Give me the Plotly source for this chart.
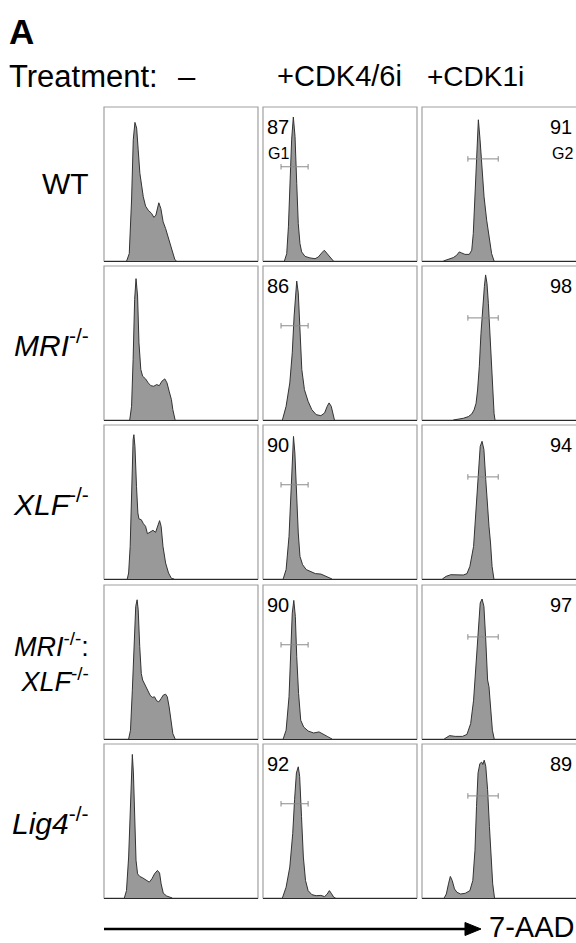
import plotly.graph_objects as go

# ---------------- data ----------------
genotypes = ["WT", "<i>MRI</i><sup>-/-</sup>", "<i>XLF</i><sup>-/-</sup>",
             "<i>MRI</i><sup>-/-</sup>:<br><i>XLF</i><sup>-/-</sup>", "<i>Lig4</i><sup>-/-</sup>"]
genotype_font = [30, 30, 30, 27, 30]
treatments = ["–", "+CDK4/6i", "+CDK1i"]
pct_g1 = [87, 86, 90, 90, 92]   # % G1 after CDK4/6i
pct_g2 = [91, 98, 94, 97, 89]   # % G2 after CDK1i
gate_g1_x = [11.7, 29.3]
gate_g1_y = 61.2
gate_g2_x = [29.8, 49.5]
gate_g2_y = 66.3

# 7-AAD histograms (x: channel, y: % of panel height)
wt_none_x = [14.7, 16.4, 17.9, 19.0, 20.1, 21.2, 22.2, 23.3, 24.4, 25.5, 27.0, 28.7, 30.9, 32.4, 33.7, 34.6, 35.6, 36.9, 38.4, 40.0, 41.3, 42.8, 44.5, 46.0, 47.1]
wt_none_y = [0, 4.8, 39.6, 78.7, 90.0, 86.3, 72.2, 56.9, 49.3, 41.7, 35.6, 33.0, 30.9, 28.3, 29.8, 34.1, 37.8, 34.1, 25.4, 21.1, 16.7, 12.4, 5.9, 0.9, 0]
wt_cdk46_x = [13.9, 15.4, 16.5, 17.5, 18.6, 19.7, 20.8, 21.9, 22.9, 24.0, 25.1, 27.3, 30.5, 33.8, 35.9, 38.1, 39.8, 41.3, 43.5, 45.7]
wt_cdk46_y = [0, 4.8, 22.2, 50.4, 78.7, 93.5, 80.9, 50.4, 24.3, 11.3, 5.9, 3.0, 2.0, 1.5, 2.6, 5.2, 7.0, 5.2, 2.2, 0]
wt_cdk1_x = [13.9, 17.1, 20.3, 22.5, 24.2, 25.8, 27.9, 30.7, 32.3, 33.3, 34.4, 35.5, 36.6, 37.7, 38.7, 40.3, 42.0, 43.7, 45.2, 46.8]
wt_cdk1_y = [0, 0.9, 2.2, 3.7, 5.9, 5.2, 4.3, 4.3, 7.0, 17.8, 43.9, 72.2, 91.7, 78.7, 61.3, 41.7, 26.5, 13.5, 4.8, 0]

mri_none_x = [16.7, 17.9, 18.9, 19.9, 20.8, 21.8, 22.7, 23.9, 25.1, 27.0, 28.7, 30.4, 32.3, 34.2, 35.9, 37.6, 39.5, 40.9, 42.3, 43.8, 44.7, 46.2]
mri_none_y = [0, 8.9, 39.3, 78.3, 91.8, 80.5, 50.1, 32.8, 28.4, 26.7, 24.1, 22.3, 21.9, 23.0, 22.3, 25.2, 26.7, 24.1, 18.7, 13.2, 6.7, 0]
mri_cdk46_x = [12.6, 15.0, 17.4, 19.0, 20.2, 21.2, 21.9, 22.9, 24.0, 25.2, 26.9, 29.3, 31.7, 34.5, 37.6, 40.0, 41.7, 42.9, 44.3, 45.5, 46.4]
mri_cdk46_y = [0, 8.9, 24.1, 43.6, 67.5, 84.8, 90.2, 82.6, 56.6, 32.8, 19.7, 12.1, 6.7, 3.5, 2.8, 4.6, 8.9, 11.1, 8.9, 3.5, 0]
mri_cdk1_x = [20.3, 23.6, 26.8, 30.1, 32.3, 33.8, 35.1, 36.1, 37.2, 38.3, 39.4, 40.5, 41.3, 42.2, 43.1, 44.2, 45.0, 45.9, 46.8, 47.4]
mri_cdk1_y = [0, 0.6, 1.1, 2.2, 3.9, 6.5, 10.8, 19.5, 34.6, 56.3, 75.8, 86.6, 94.2, 88.7, 75.8, 54.1, 34.6, 17.3, 4.3, 0]

xlf_none_x = [15.1, 16.0, 17.0, 17.9, 18.9, 19.4, 20.1, 21.1, 22.0, 22.7, 24.2, 25.6, 27.0, 28.2, 29.9, 31.8, 33.5, 34.7, 36.1, 37.1, 38.3, 40.0, 41.9, 43.8, 45.5]
xlf_none_y = [0, 3.9, 21.2, 60.2, 90.5, 93.7, 86.1, 60.2, 42.9, 39.0, 38.5, 35.9, 34.2, 29.4, 30.3, 31.6, 30.3, 34.2, 37.9, 34.2, 21.2, 10.4, 3.9, 0.4, 0]
xlf_cdk46_x = [13.1, 15.0, 16.9, 18.1, 19.0, 19.8, 20.7, 21.7, 22.9, 24.0, 25.7, 28.1, 30.5, 34.0, 37.6, 41.2, 44.8]
xlf_cdk46_y = [0, 6.1, 27.7, 55.8, 81.8, 92.6, 81.8, 55.8, 29.9, 14.7, 9.3, 6.1, 5.0, 3.5, 3.2, 1.7, 0]
xlf_cdk1_x = [13.2, 15.6, 18.7, 22.7, 26.8, 29.2, 31.1, 33.5, 34.9, 36.4, 37.8, 39.0, 40.2, 41.4, 42.6, 43.5, 44.5, 45.5, 46.7]
xlf_cdk1_y = [0, 1.7, 2.8, 2.6, 2.6, 3.5, 8.2, 21.2, 42.9, 68.8, 86.1, 89.4, 84.0, 64.5, 42.9, 34.2, 23.4, 8.2, 0]

dko_none_x = [16.0, 17.2, 18.4, 19.6, 20.6, 21.5, 22.2, 23.2, 24.2, 25.1, 26.6, 28.0, 29.9, 31.3, 32.8, 34.2, 35.6, 37.1, 38.5, 40.0, 41.1, 42.3, 43.5, 44.7, 46.2]
dko_none_y = [0, 5.7, 31.7, 64.3, 86.1, 90.4, 83.9, 60.0, 42.6, 38.3, 35.0, 31.7, 28.5, 27.0, 27.4, 24.8, 24.1, 26.3, 28.5, 29.1, 27.4, 20.9, 12.2, 3.5, 0]
dko_cdk46_x = [13.1, 15.0, 16.9, 18.1, 19.0, 20.0, 21.0, 21.9, 23.1, 24.5, 26.4, 29.3, 32.9, 36.4, 38.8, 41.7, 44.8]
dko_cdk46_y = [0, 5.7, 27.4, 55.7, 81.7, 90.0, 79.6, 53.5, 29.6, 12.2, 7.8, 5.2, 3.9, 4.6, 3.5, 1.7, 0]
dko_cdk1_x = [14.4, 16.3, 17.9, 21.5, 26.3, 29.2, 31.6, 33.5, 34.9, 36.4, 37.8, 39.0, 40.2, 41.4, 42.6, 43.5, 44.7, 45.7, 46.9]
dko_cdk1_y = [0, 1.3, 2.2, 1.7, 1.7, 3.0, 10.0, 25.2, 47.0, 73.0, 88.3, 90.9, 86.1, 64.3, 38.3, 33.9, 20.9, 5.7, 0]

lig4_none_x = [13.2, 14.6, 16.0, 17.0, 17.9, 18.4, 19.1, 19.9, 20.8, 21.8, 23.2, 25.1, 27.5, 29.4, 31.1, 32.8, 34.7, 36.1, 37.1, 38.5, 40.7, 44.3]
lig4_none_y = [0, 4.8, 26.6, 59.4, 90.0, 93.2, 81.2, 48.5, 24.5, 15.7, 14.0, 13.1, 11.4, 10.3, 12.4, 15.7, 17.9, 16.2, 9.2, 3.1, 1.3, 0]
lig4_cdk46_x = [12.6, 15.0, 17.4, 19.3, 20.5, 21.7, 22.9, 23.8, 25.0, 26.2, 27.6, 29.3, 31.7, 34.5, 37.6, 40.0, 41.7, 43.1, 44.3, 46.0, 47.1]
lig4_cdk46_y = [0, 7.0, 20.1, 41.9, 63.8, 81.2, 85.2, 79.0, 52.8, 26.6, 11.4, 4.8, 2.2, 1.5, 1.7, 0.9, 2.6, 4.8, 3.1, 0.4, 0]
lig4_cdk1_x = [14.4, 15.8, 17.2, 18.4, 19.6, 21.1, 22.7, 25.1, 28.2, 31.1, 33.0, 34.4, 35.4, 36.4, 37.6, 38.8, 39.5, 40.4, 41.4, 42.6, 43.8, 45.0, 45.9, 47.1]
lig4_cdk1_y = [0, 2.6, 9.2, 14.0, 11.4, 5.9, 3.7, 2.6, 3.1, 4.8, 11.4, 31.0, 59.4, 81.2, 87.3, 88.2, 86.7, 89.5, 85.6, 70.3, 46.3, 24.5, 9.2, 0]

histograms = [
    [(wt_none_x, wt_none_y), (wt_cdk46_x, wt_cdk46_y), (wt_cdk1_x, wt_cdk1_y)],
    [(mri_none_x, mri_none_y), (mri_cdk46_x, mri_cdk46_y), (mri_cdk1_x, mri_cdk1_y)],
    [(xlf_none_x, xlf_none_y), (xlf_cdk46_x, xlf_cdk46_y), (xlf_cdk1_x, xlf_cdk1_y)],
    [(dko_none_x, dko_none_y), (dko_cdk46_x, dko_cdk46_y), (dko_cdk1_x, dko_cdk1_y)],
    [(lig4_none_x, lig4_none_y), (lig4_cdk46_x, lig4_cdk46_y), (lig4_cdk1_x, lig4_cdk1_y)],
]

# ---------------- layout geometry (page pixels) ----------------
W, H = 576, 943


def px(x):
    return x / W


def py(y):
    return 1 - y / H


col_left = [104, 263, 422]
row_top = [107, 266, 425, 585, 744]
PW, PH = 154, 154
FONT = "Liberation Sans, Arial, Helvetica, sans-serif"

fig = go.Figure()
layout = dict(width=W, height=H, margin=dict(l=0, r=0, t=0, b=0),
              paper_bgcolor="white", plot_bgcolor="white", showlegend=False,
              font=dict(family=FONT, color="black"))
shapes, annotations = [], []

n = 0
for r in range(5):
    for c in range(3):
        n += 1
        sfx = "" if n == 1 else str(n)
        xa, ya = "x" + sfx, "y" + sfx
        x0 = px(col_left[c])
        x1 = min(px(col_left[c] + PW), 1.0)
        y1 = py(row_top[r])
        y0 = py(row_top[r] + PH)
        layout["xaxis" + sfx] = dict(domain=[x0, x1], range=[0, 100], anchor=ya,
                                     showgrid=False, zeroline=False, showticklabels=False,
                                     ticks="", showline=True, linecolor="#2a2a2a", linewidth=1.3,
                                     fixedrange=True)
        layout["yaxis" + sfx] = dict(domain=[y0, y1], range=[0, 100], anchor=xa,
                                     showgrid=False, zeroline=False, showticklabels=False,
                                     ticks="", showline=False, fixedrange=True)
        # panel frame; the right-hand column runs off the page edge
        shapes.append(dict(type="rect", xref=xa + " domain", yref=ya + " domain",
                           x0=0, x1=(1.03 if c == 2 else 1), y0=0, y1=1,
                           line=dict(color="#a0a0a0", width=1.2), layer="below"))
        hx, hy = histograms[r][c]
        fig.add_trace(go.Scatter(x=hx, y=hy, xaxis=xa, yaxis=ya, mode="lines",
                                 fill="tozeroy", fillcolor="#999999",
                                 line=dict(color="#333333", width=1), hoverinfo="skip"))
        if c == 1:
            gx, gy = gate_g1_x, gate_g1_y
        elif c == 2:
            gx, gy = gate_g2_x, gate_g2_y
        else:
            gx = None
        if gx is not None:
            fig.add_trace(go.Scatter(x=gx, y=[gy, gy], xaxis=xa, yaxis=ya, mode="lines",
                                     line=dict(color="#8a8a8a", width=1),
                                     error_y=dict(type="constant", value=1.8, color="#8a8a8a",
                                                  thickness=1, width=0),
                                     hoverinfo="skip"))
        if c == 1:
            annotations.append(dict(text=str(pct_g1[r]), xref=xa + " domain", yref=ya + " domain",
                                    x=0.015, y=0.87, xanchor="left", yanchor="middle",
                                    showarrow=False, font=dict(size=20)))
            if r == 0:
                annotations.append(dict(text="G1", xref=xa + " domain", yref=ya + " domain",
                                        x=0.02, y=0.70, xanchor="left", yanchor="middle",
                                        showarrow=False, font=dict(size=16)))
        if c == 2:
            annotations.append(dict(text=str(pct_g2[r]), xref=xa + " domain", yref=ya + " domain",
                                    x=0.99, y=0.87, xanchor="right", yanchor="middle",
                                    showarrow=False, font=dict(size=20)))
            if r == 0:
                annotations.append(dict(text="G2", xref=xa + " domain", yref=ya + " domain",
                                        x=0.995, y=0.70, xanchor="right", yanchor="middle",
                                        showarrow=False, font=dict(size=16)))

# row labels
for r in range(5):
    annotations.append(dict(text=genotypes[r], xref="paper", yref="paper",
                            x=px(91), y=py(row_top[r] + PH / 2), xanchor="right",
                            yanchor="middle", align="right",
                            showarrow=False, font=dict(size=genotype_font[r])))

# column headers
annotations.append(dict(text="Treatment:", xref="paper", yref="paper", x=px(7), y=py(76),
                        xanchor="left", yanchor="middle", showarrow=False, font=dict(size=31)))
hdr_x = [187, 339, 475]
hdr_size = [31, 29, 28]
for c in range(3):
    annotations.append(dict(text=treatments[c], xref="paper", yref="paper", x=px(hdr_x[c]),
                            y=py(76), xanchor="center", yanchor="middle", showarrow=False,
                            font=dict(size=hdr_size[c])))

# panel letter
annotations.append(dict(text="<b>A</b>", xref="paper", yref="paper", x=px(7), y=py(31),
                        xanchor="left", yanchor="middle", showarrow=False, font=dict(size=35)))

# 7-AAD axis arrow
ARROW_Y = 929
shapes.append(dict(type="line", xref="paper", yref="paper", x0=px(104), x1=px(468),
                   y0=py(ARROW_Y), y1=py(ARROW_Y), line=dict(color="black", width=2.7)))
shapes.append(dict(type="path", xref="paper", yref="paper",
                   path="M {:.5f} {:.5f} L {:.5f} {:.5f} L {:.5f} {:.5f} Z".format(
                       px(465), py(ARROW_Y - 6.5), px(481), py(ARROW_Y), px(465), py(ARROW_Y + 6.5)),
                   fillcolor="black", line=dict(color="black", width=1)))
annotations.append(dict(text="7-AAD", xref="paper", yref="paper", x=px(487), y=py(927),
                        xanchor="left", yanchor="middle", showarrow=False, font=dict(size=29)))

layout["shapes"] = shapes
layout["annotations"] = annotations
fig.update_layout(**layout)
# remove the page's default body margin so the figure fills the 576x943 window exactly
fig.write_html("out.html",
               config={"displayModeBar": False},
               post_script="document.body.style.margin='0';"
                           "document.body.style.overflow='hidden';"
                           "document.documentElement.style.overflow='hidden';")
